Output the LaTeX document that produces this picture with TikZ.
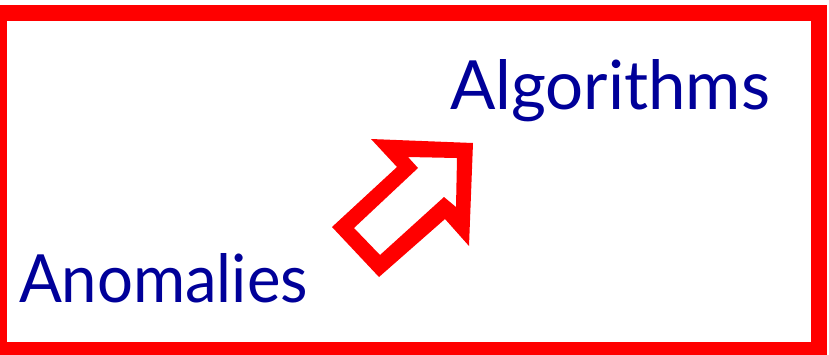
\documentclass[tikz,border=0pt]{standalone}
\usepackage{fontspec}
\setmainfont{Lato}
\definecolor{txtblue}{RGB}{0,0,153}
\definecolor{bred}{RGB}{255,0,0}
\tikzset{
  lbl/.style={inner sep=0pt, outer sep=0pt, text=txtblue, anchor=base west},
  frame/.style={draw=bred, line width=16pt, miter limit=10},
}
\begin{document}
\begin{tikzpicture}[x=1pt,y=-1pt]
\useasboundingbox (0,0) rectangle (829,354);
\clip (0,0) rectangle (829,354);
\draw[frame] (-1,13) rectangle (819,350);
% hollow block arrow
\fill[bred,even odd rule]
  (473,143) -- (371,139) -- (397,167) -- (332,227) -- (379,277) -- (445,219) -- (469,246) -- cycle
  (457,158) -- (408,157) -- (418,168) -- (354,228) -- (380,255) -- (444,197) -- (456,207) -- cycle;
\node[lbl] (anom) at (19,302.7) {\resizebox{289pt}{49pt}{Anomalies}};
\node[lbl] (algo) at (450,109) {\resizebox{320pt}{50pt}{Algorithms}};
\end{tikzpicture}
\end{document}
